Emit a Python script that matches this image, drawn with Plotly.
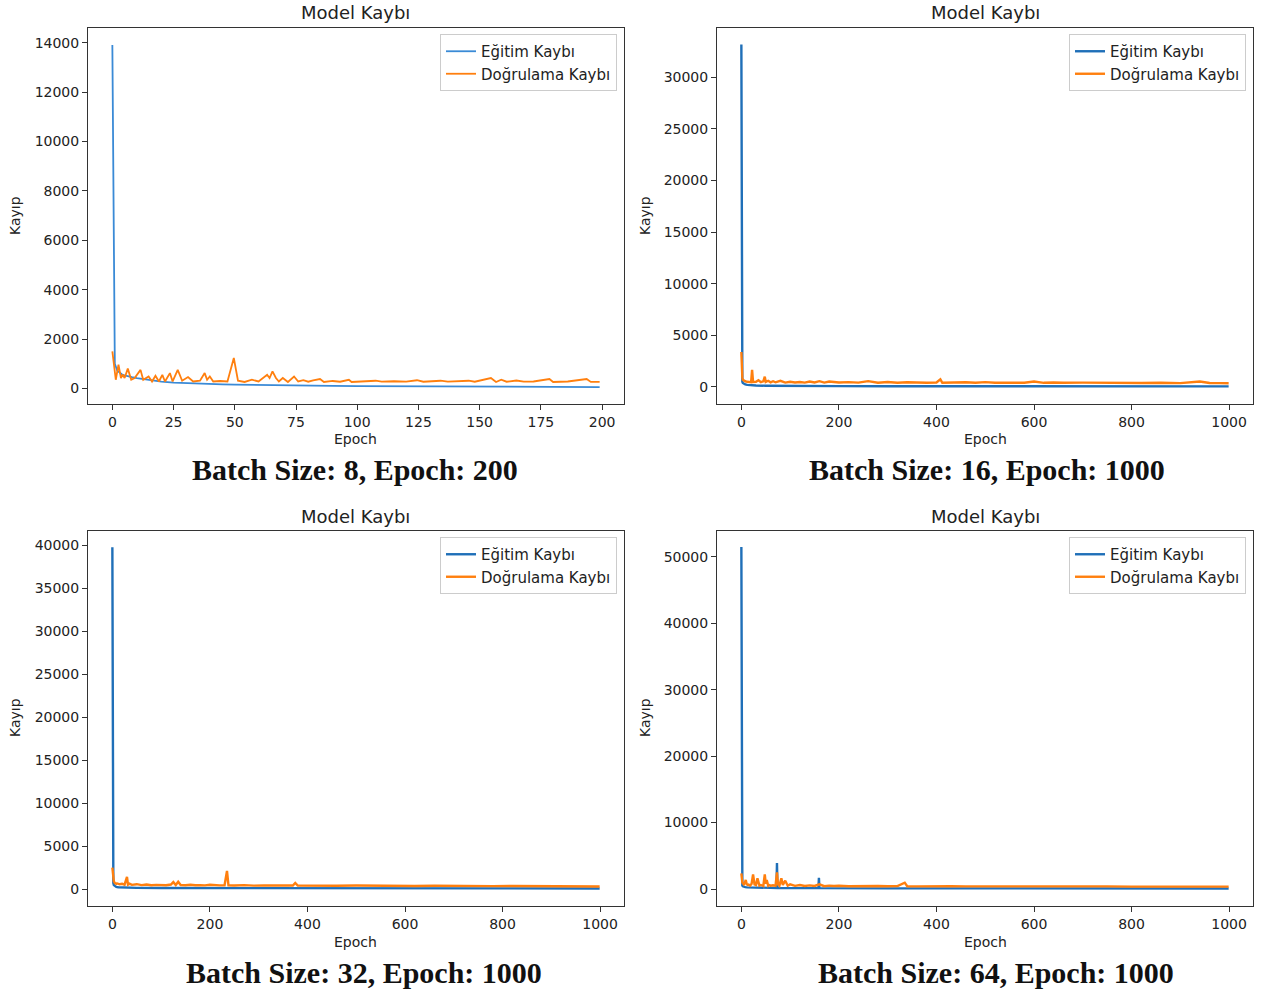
import plotly.graph_objects as go

# ---------------- data ----------------
# Panel 1: Batch Size 8, Epoch 200
tl_train_ep = [0, 1, 2, 3, 4, 5, 6, 8, 10, 12, 15, 18, 20, 25, 30, 35, 40, 45, 50, 55, 60, 70, 80, 90, 100, 120, 140, 160, 180, 199]
tl_train = [13900, 1000, 720, 620, 560, 530, 500, 460, 420, 390, 330, 290, 270, 235, 210, 190, 175, 160, 150, 140, 130, 120, 110, 100, 95, 85, 75, 65, 60, 55]
tl_val_ep = [0, 1.4, 2.5, 3.5, 4.2, 5, 6.3, 7.7, 9.1, 11.5, 12.6, 14.8, 16.2, 17.6, 19, 20.4, 21.5, 23.5, 24.6, 26.7, 28.5, 30.9, 33,
             35.8, 37.7, 38.7, 39.8, 41.2, 44, 47, 49.6, 51.3, 54, 57, 59.7, 61, 63.2, 64.2, 65.4, 66.8, 68, 69.6, 71.7, 74.2, 75.9,
             78, 80, 82, 84.8, 86.4, 90, 93, 96.6, 97.7, 102, 107.5, 110, 115, 120, 124.4, 127, 134, 137, 145.5, 148, 154.6, 156.7,
             158.8, 161, 165, 168, 172, 178.5, 180, 186, 193.7, 195.4, 199]
tl_val = [1500, 350, 960, 420, 560, 420, 800, 350, 420, 750, 350, 480, 280, 510, 280, 550, 280, 620, 280, 750, 310, 460, 280,
          310, 620, 350, 480, 280, 300, 280, 1230, 310, 260, 350, 280, 390, 550, 420, 690, 420, 280, 420, 260, 480, 280,
          330, 270, 320, 380, 260, 300, 270, 350, 260, 280, 310, 270, 290, 270, 330, 270, 310, 270, 310, 270, 420, 260,
          350, 270, 320, 270, 280, 380, 260, 280, 380, 260, 260]

# Panel 2: Batch Size 16, Epoch 1000
tr_train_ep = [0, 1, 2, 3, 5, 8, 12, 20, 30, 50, 80, 120, 200, 300, 500, 700, 999]
tr_train = [33150, 900, 500, 380, 300, 240, 200, 160, 140, 120, 105, 95, 85, 75, 65, 60, 55]
tr_val_ep = [0, 1, 2, 3, 5, 8, 12, 16, 20, 22, 24, 30, 35, 40, 45, 48, 50, 55, 60, 65, 70, 80, 90, 100, 110, 120, 130, 140,
             150, 160, 170, 180, 200, 220, 240, 260, 280, 300, 320, 340, 360, 380, 400, 408, 412, 430, 460, 480, 500, 520,
             540, 560, 580, 600, 620, 640, 660, 700, 740, 780, 820, 860, 900, 940, 960, 980, 999]
tr_val = [3390, 1400, 900, 700, 600, 550, 500, 480, 470, 1650, 480, 500, 650, 460, 550, 1000, 480, 600, 450, 550, 450, 600,
          420, 500, 430, 480, 420, 520, 430, 560, 420, 520, 430, 470, 420, 560, 410, 480, 400, 460, 420, 400, 430, 740,
          400, 420, 450, 400, 470, 400, 420, 450, 410, 520, 400, 430, 400, 420, 390, 410, 380, 400, 370, 520, 380, 370, 360]

# Panel 3: Batch Size 32, Epoch 1000
bl_train_ep = [0, 1, 2, 3, 5, 8, 12, 20, 30, 50, 100, 200, 400, 600, 800, 999]
bl_train = [39800, 1500, 700, 450, 320, 250, 200, 170, 150, 130, 110, 95, 85, 75, 70, 65]
bl_val_ep = [0, 1, 2, 3, 5, 8, 10, 15, 20, 25, 30, 32, 35, 40, 50, 60, 70, 80, 90, 100, 110, 120, 125, 130, 135, 140, 150,
             160, 170, 180, 190, 200, 210, 220, 230, 235, 238, 250, 270, 290, 310, 330, 350, 370, 375, 380, 400, 430, 460,
             500, 540, 580, 620, 660, 700, 740, 780, 820, 860, 900, 940, 999]
bl_val = [2500, 1600, 1100, 900, 700, 600, 650, 550, 600, 500, 1400, 500, 620, 480, 560, 450, 520, 440, 480, 460, 430, 520,
          800, 460, 850, 470, 440, 500, 430, 450, 420, 500, 430, 420, 440, 2100, 430, 400, 450, 390, 420, 380, 410, 400,
          700, 400, 380, 420, 370, 400, 360, 380, 350, 380, 340, 360, 330, 350, 320, 330, 310, 300]

# Panel 4: Batch Size 64, Epoch 1000
br_train_ep = [0, 1, 2, 3, 5, 8, 12, 20, 40, 60, 72, 73, 74, 80, 100, 150, 158, 159, 160, 170, 200, 300, 500, 700, 999]
br_train = [51500, 900, 500, 400, 320, 280, 250, 220, 190, 170, 160, 3900, 160, 150, 140, 130, 130, 1700, 130, 125, 115, 100, 90, 85, 80]
br_val_ep = [0, 1, 2, 3, 5, 7, 9, 11, 13, 15, 18, 21, 24, 27, 30, 33, 35, 37, 40, 45, 48, 50, 52, 55, 57, 60, 65, 70, 73, 75,
             78, 82, 85, 90, 95, 100, 110, 120, 130, 140, 150, 160, 170, 180, 190, 200, 220, 240, 260, 280, 300, 320, 335,
             340, 360, 380, 400, 430, 460, 500, 540, 580, 620, 660, 700, 750, 800, 850, 900, 950, 999]
br_val = [2360, 1300, 1000, 850, 700, 900, 1360, 700, 600, 650, 500, 800, 2200, 700, 600, 1600, 700, 500, 600, 450, 2200,
          800, 1360, 500, 600, 500, 550, 480, 2500, 700, 500, 1600, 600, 1250, 500, 700, 480, 600, 450, 550, 450, 700,
          420, 500, 450, 480, 420, 460, 400, 450, 410, 430, 950, 420, 400, 430, 390, 420, 400, 410, 380, 420, 380, 400,
          370, 400, 360, 380, 350, 370, 350]

captions = ["Batch Size: 8, Epoch: 200", "Batch Size: 16, Epoch: 1000",
            "Batch Size: 32, Epoch: 1000", "Batch Size: 64, Epoch: 1000"]
series_names = ["Eğitim Kaybı", "Doğrulama Kaybı"]
panel_title = "Model Kaybı"
x_label = "Epoch"
y_label = "Kayıp"

panels = [
    (tl_train_ep, tl_train, tl_val_ep, tl_val),
    (tr_train_ep, tr_train, tr_val_ep, tr_val),
    (bl_train_ep, bl_train, bl_val_ep, bl_val),
    (br_train_ep, br_train, br_val_ep, br_val),
]
for a, b, c, d in panels:
    assert len(a) == len(b), (len(a), len(b))
    assert len(c) == len(d), (len(c), len(d))

# ---------------- layout geometry ----------------
W, H = 1262, 989
def px(x): return x / W
def py(y): return 1 - y / H

x_dom = [(px(88), px(624)), (px(717), px(1253)), (px(88), px(624)), (px(717), px(1253))]
y_dom = [(py(404), py(28)), (py(404), py(28)), (py(906), py(531)), (py(906), py(531))]
x_rng = [(-9.95, 208.95), (-49.95, 1048.95), (-49.95, 1048.95), (-49.95, 1048.95)]
y_rng = [(-632, 14592), (-1650, 34750), (-1980, 41700), (-2560, 53900)]
x_ticks = [list(range(0, 201, 25)), list(range(0, 1001, 200)), list(range(0, 1001, 200)), list(range(0, 1001, 200))]
y_ticks = [list(range(0, 14001, 2000)), list(range(0, 30001, 5000)), list(range(0, 40001, 5000)), list(range(0, 50001, 10000))]
blue_cols = ["#3a8ad6", "#1f6fb8", "#1f6fb8", "#1f6fb8"]
orange = "#ff7f0e"
line_w = [1.8, 2.4, 2.4, 2.4]
legend_pos = [(px(617), py(34)), (px(1246), py(34)), (px(617), py(537)), (px(1246), py(537))]
centers_x = [px(356), px(985), px(356), px(985)]
title_y = [py(13), py(13), py(516), py(516)]
epoch_y = [py(439), py(439), py(942), py(942)]
kayip_x = [px(15), px(645), px(15), px(645)]
kayip_y = [py(216), py(216), py(718), py(718)]
cap_x = [px(355), px(987), px(364), px(996)]
cap_y = [py(469), py(469), py(972), py(972)]

fig = go.Figure()
layout = dict(
    width=W, height=H, margin=dict(l=0, r=0, t=0, b=0),
    paper_bgcolor="white", plot_bgcolor="white",
    font=dict(family="DejaVu Sans", size=14, color="#222"),
    annotations=[],
)

for i, (tep, tv, vep, vv) in enumerate(panels):
    sfx = "" if i == 0 else str(i + 1)
    leg = "legend" if i == 0 else f"legend{i + 1}"
    fig.add_trace(go.Scatter(x=tep, y=tv, mode="lines", name=series_names[0],
                             line=dict(color=blue_cols[i], width=line_w[i]),
                             xaxis="x" + sfx, yaxis="y" + sfx, legend=leg))
    fig.add_trace(go.Scatter(x=vep, y=vv, mode="lines", name=series_names[1],
                             line=dict(color=orange, width=line_w[i]),
                             xaxis="x" + sfx, yaxis="y" + sfx, legend=leg))
    axcommon = dict(showline=True, mirror=True, linecolor="#333", linewidth=1,
                    ticks="outside", ticklen=5, tickcolor="#333", showgrid=False,
                    zeroline=False, tickfont=dict(size=14, color="#222"))
    layout["xaxis" + sfx] = dict(domain=list(x_dom[i]), range=list(x_rng[i]), tickvals=x_ticks[i],
                                 ticktext=[str(v) for v in x_ticks[i]],
                                 anchor="y" + sfx, **axcommon)
    layout["yaxis" + sfx] = dict(domain=list(y_dom[i]), range=list(y_rng[i]), tickvals=y_ticks[i],
                                 ticktext=[str(v) for v in y_ticks[i]],
                                 anchor="x" + sfx, **axcommon)
    layout[leg] = dict(x=legend_pos[i][0], y=legend_pos[i][1], xanchor="right", yanchor="top",
                       bgcolor="white", bordercolor="#cccccc", borderwidth=1,
                       font=dict(size=15, color="#222"), tracegroupgap=0)
    layout["annotations"] += [
        dict(text=panel_title, x=centers_x[i], y=title_y[i], xref="paper", yref="paper",
             showarrow=False, font=dict(size=18, color="#222"), xanchor="center", yanchor="middle"),
        dict(text=x_label, x=centers_x[i], y=epoch_y[i], xref="paper", yref="paper",
             showarrow=False, font=dict(size=14, color="#222"), xanchor="center", yanchor="middle"),
        dict(text=y_label, x=kayip_x[i], y=kayip_y[i], xref="paper", yref="paper", textangle=-90,
             showarrow=False, font=dict(size=14, color="#222"), xanchor="center", yanchor="middle"),
        dict(text="<b>" + captions[i] + "</b>", x=cap_x[i], y=cap_y[i], xref="paper", yref="paper",
             showarrow=False, font=dict(family="Liberation Serif", size=30, color="#111"),
             xanchor="center", yanchor="middle"),
    ]

fig.update_layout(**layout)
fig.write_html("out.html")
